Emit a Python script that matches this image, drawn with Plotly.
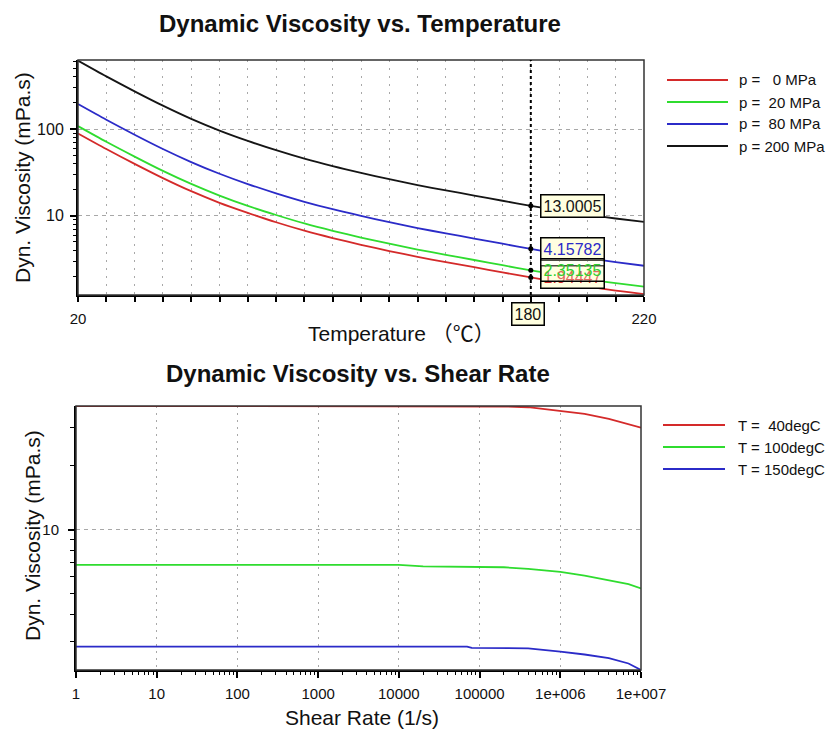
import math
import plotly.graph_objects as go

FONT = "Liberation Sans, Arial, Noto Sans CJK SC, sans-serif"
W, H = 830, 729

# ---------------- Top chart: viscosity vs temperature ----------------
temperature = [20, 30, 40, 50, 60, 70, 80, 90, 100, 110, 120, 130, 140, 150,
               160, 170, 180, 190, 200, 210, 220]
visc_p0 = [89, 58.9, 39.7, 27.2, 19.2, 14.1, 10.8, 8.42, 6.73, 5.53, 4.63, 3.92,
           3.36, 2.92, 2.55, 2.22, 1.944, 1.71, 1.53, 1.37, 1.25]
visc_p20 = [108, 71.3, 48.1, 32.9, 23.3, 17.1, 13.0, 10.2, 8.15, 6.7, 5.61, 4.76,
            4.08, 3.54, 3.09, 2.69, 2.351, 2.07, 1.85, 1.67, 1.52]
visc_p80 = [194, 128, 86, 58.9, 41.6, 30.5, 23.2, 18.15, 14.5, 11.9, 9.97, 8.43,
            7.22, 6.26, 5.46, 4.76, 4.158, 3.65, 3.25, 2.92, 2.65]
visc_p200 = [615, 405, 272, 186, 131, 96, 73, 57, 45.5, 37.3, 31.2, 26.4, 22.6,
             19.6, 17.1, 14.9, 13.0, 11.5, 10.3, 9.3, 8.5]
pressure_series = [visc_p0, visc_p20, visc_p80, visc_p200]
pressure_labels = ["p =\u00a0\u00a0\u00a00 MPa", "p =\u00a0\u00a020 MPa",
                   "p =\u00a0\u00a080 MPa", "p = 200 MPa"]
pressure_colors = ["#d42a2a", "#2fdc2f", "#2b2bc8", "#151515"]
temp_ticks = list(range(20, 221, 10))
temp_ticktext = ["20"] + [""] * 19 + ["220"]
visc_ticks_top = [10, 100]
visc_minor_top = [2, 3, 4, 5, 6, 7, 8, 9, 20, 30, 40, 50, 60, 70, 80, 90,
                  200, 300, 400, 500, 600]

cursor_T = 180
cursor_values = [13.0005, 4.15782, 1.94447, 2.35135]
cursor_labels = ["13.0005", "4.15782", "1.94447", "2.35135"]
cursor_colors = ["#151515", "#2b2bc8", "#d42a2a", "#2fcf2f"]

# ---------------- Bottom chart: viscosity vs shear rate ----------------
shear_rate = [1, 10, 100, 1000, 10000, 20000, 70000, 80000, 100000, 200000,
              400000, 1000000, 2000000, 4000000, 7000000, 10000000]
visc_T40 = [37.9, 37.9, 37.9, 37.9, 37.9, 37.9, 37.88, 37.87, 37.85, 37.7,
            37.4, 36.0, 34.8, 33.0, 31.2, 30.0]
visc_T100 = [6.84, 6.84, 6.84, 6.84, 6.84, 6.72, 6.70, 6.70, 6.70, 6.66,
             6.55, 6.34, 6.08, 5.80, 5.55, 5.30]
visc_T150 = [2.83, 2.83, 2.83, 2.83, 2.83, 2.83, 2.83, 2.79, 2.79, 2.79,
             2.78, 2.68, 2.60, 2.50, 2.36, 2.20]
temp_series = [visc_T40, visc_T100, visc_T150]
temp_labels = ["T =\u00a0\u00a040degC", "T = 100degC", "T = 150degC"]
temp_colors = ["#d42a2a", "#2fdc2f", "#2b2bc8"]
shear_ticks = [1, 10, 100, 1000, 10000, 100000, 1000000, 10000000]
shear_ticktext = ["1", "10", "100", "1000", "10000", "100000", "1e+006", "1e+007"]
shear_minor = [m * 10 ** d for d in range(7) for m in range(2, 10)]
visc_ticks_bot = [10]
visc_minor_bot = [3, 4, 5, 6, 7, 8, 9, 20, 30]


def px(x):
    return x / W


def py(y):
    return 1 - y / H


fig = go.Figure()

for vals, lab, col in zip(pressure_series, pressure_labels, pressure_colors):
    fig.add_trace(go.Scatter(x=temperature, y=vals, mode="lines", name=lab,
                             line=dict(color=col, width=1.8, shape="spline", smoothing=0.8),
                             xaxis="x", yaxis="y", showlegend=False))

fig.add_trace(go.Scatter(x=[cursor_T] * len(cursor_values), y=cursor_values,
                         mode="markers", marker=dict(color="black", size=5),
                         xaxis="x", yaxis="y", showlegend=False))

for vals, lab, col in zip(temp_series, temp_labels, temp_colors):
    fig.add_trace(go.Scatter(x=shear_rate, y=vals, mode="lines", name=lab,
                             line=dict(color=col, width=1.8),
                             xaxis="x2", yaxis="y2", showlegend=False))

tickfont = dict(family=FONT, size=15, color="#111")
ytickfont = dict(family=FONT, size=16, color="#111")

fig.update_layout(
    width=W, height=H, autosize=False,
    margin=dict(l=0, r=0, t=0, b=0, autoexpand=False),
    paper_bgcolor="white", plot_bgcolor="white",
    showlegend=False,
    xaxis=dict(domain=[px(78), px(644)], anchor="y", range=[20, 220],
               tickmode="array", tickvals=temp_ticks, ticktext=temp_ticktext,
               ticks="outside", ticklen=5, tickwidth=1.5, tickcolor="black",
               showline=True, linewidth=2, linecolor="black",
               showgrid=True, gridcolor="#a8a8a8", gridwidth=1,
               griddash="2px,6px", zeroline=False, tickfont=tickfont,
               ticklabelstandoff=4, automargin=False),
    yaxis=dict(domain=[py(295), py(60)], anchor="x", type="log",
               range=[math.log10(1.22), math.log10(625)],
               tickmode="array", tickvals=visc_ticks_top,
               ticktext=[str(v) for v in visc_ticks_top],
               ticks="outside", ticklen=6, tickwidth=1.5, tickcolor="black",
               minor=dict(tickmode="array", tickvals=visc_minor_top,
                          ticks="outside", ticklen=3, tickcolor="black",
                          tickwidth=1, showgrid=False),
               showline=True, linewidth=2, linecolor="black",
               showgrid=True, gridcolor="#a8a8a8", gridwidth=1,
               griddash="4px,4px", zeroline=False, tickfont=ytickfont,
               ticklabelstandoff=3, automargin=False),
    xaxis2=dict(domain=[px(76), px(641)], anchor="y2", type="log",
                range=[0, 7], tickmode="array", tickvals=shear_ticks,
                ticktext=shear_ticktext,
                ticks="outside", ticklen=6, tickwidth=1.5, tickcolor="black",
                minor=dict(tickmode="array", tickvals=shear_minor,
                           ticks="outside", ticklen=3, tickcolor="black",
                           tickwidth=1, showgrid=False),
                showline=True, linewidth=2, linecolor="black",
                showgrid=True, gridcolor="#a8a8a8", gridwidth=1,
                griddash="2px,5px", zeroline=False, tickfont=tickfont,
                ticklabelstandoff=3, automargin=False),
    yaxis2=dict(domain=[py(670), py(406)], anchor="x2", type="log",
                range=[math.log10(2.2), math.log10(37.9)],
                tickmode="array", tickvals=visc_ticks_bot,
                ticktext=[str(v) for v in visc_ticks_bot],
                ticks="outside", ticklen=6, tickwidth=1.5, tickcolor="black",
                minor=dict(tickmode="array", tickvals=visc_minor_bot,
                           ticks="outside", ticklen=4, tickcolor="black",
                           tickwidth=1, showgrid=False),
                showline=True, linewidth=2, linecolor="black",
                showgrid=True, gridcolor="#a8a8a8", gridwidth=1,
                griddash="4px,4px", zeroline=False, tickfont=tickfont,
                ticklabelstandoff=6, automargin=False),
)

shapes = [
    dict(type="rect", xref="x domain", yref="y domain", x0=0, x1=1, y0=0, y1=1,
         line=dict(color="#333", width=1.5), layer="above"),
    dict(type="rect", xref="x2 domain", yref="y2 domain", x0=0, x1=1, y0=0, y1=1,
         line=dict(color="#333", width=1.5), layer="above"),
    dict(type="line", xref="x", yref="y domain", x0=cursor_T, x1=cursor_T,
         y0=0, y1=1, line=dict(color="black", width=2, dash="3px,3px")),
]

annotations = []


def text_ann(text, x, y, size, xanchor="center", angle=0, weight="normal", color="#111"):
    return dict(text=text, x=px(x), y=py(y), xref="paper", yref="paper",
                xanchor=xanchor, yanchor="middle", textangle=angle, showarrow=False,
                font=dict(family=FONT, size=size, color=color, weight=weight))


# titles
annotations.append(text_ann("Dynamic Viscosity vs. Temperature", 360, 23, 24, weight="bold"))
annotations.append(text_ann("Dynamic Viscosity vs. Shear Rate", 358, 373, 24, weight="bold"))
# axis titles
annotations.append(text_ann("Temperature （℃）", 306, 333, 21, xanchor="left"))
annotations.append(text_ann("Shear Rate (1/s)", 362, 717, 21))
annotations.append(text_ann("Dyn. Viscosity (mPa.s)", 23, 178, 21, angle=-90))
annotations.append(text_ann("Dyn. Viscosity (mPa.s)", 32, 536, 21, angle=-90))
# cursor readouts
for v, lab, col in zip(cursor_values, cursor_labels, cursor_colors):
    bg = "#ffffe0" if lab != "2.35135" else "rgba(255,255,224,0.3)"
    annotations.append(dict(text=lab, x=cursor_T, y=math.log10(v), xref="x", yref="y",
                            xanchor="left", yanchor="middle", xshift=9, showarrow=False,
                            bgcolor=bg, bordercolor="black", borderwidth=1.5,
                            borderpad=2, font=dict(family=FONT, size=16, color=col)))
annotations.append(dict(text=str(cursor_T), x=cursor_T, y=py(314), xref="x", yref="paper",
                        xanchor="center", yanchor="middle", xshift=-3, showarrow=False,
                        bgcolor="#ffffe0", bordercolor="black",
                        borderwidth=1.5, borderpad=2,
                        font=dict(family=FONT, size=16, color="#111")))

# manual legends
for i, (lab, col) in enumerate(zip(pressure_labels, pressure_colors)):
    yy = 80 + 22 * i
    shapes.append(dict(type="line", xref="paper", yref="paper", x0=px(667), x1=px(728),
                       y0=py(yy), y1=py(yy), line=dict(color=col, width=1.8)))
    annotations.append(text_ann(lab, 737, yy, 15, xanchor="left"))
for i, (lab, col) in enumerate(zip(temp_labels, temp_colors)):
    yy = 425 + 22 * i
    shapes.append(dict(type="line", xref="paper", yref="paper", x0=px(663), x1=px(725),
                       y0=py(yy), y1=py(yy), line=dict(color=col, width=1.8)))
    annotations.append(text_ann(lab, 736, yy, 15, xanchor="left"))

fig.update_layout(shapes=shapes, annotations=annotations)

post = ("document.documentElement.style.margin='0';document.body.style.margin='0';"
        "document.documentElement.style.overflow='hidden';document.body.style.overflow='hidden';"
        "var gd=document.getElementById('{plot_id}');"
        "Plotly.relayout(gd,{width:830,height:729});")
fig.write_html("out.html", config={"responsive": False}, post_script=post)
